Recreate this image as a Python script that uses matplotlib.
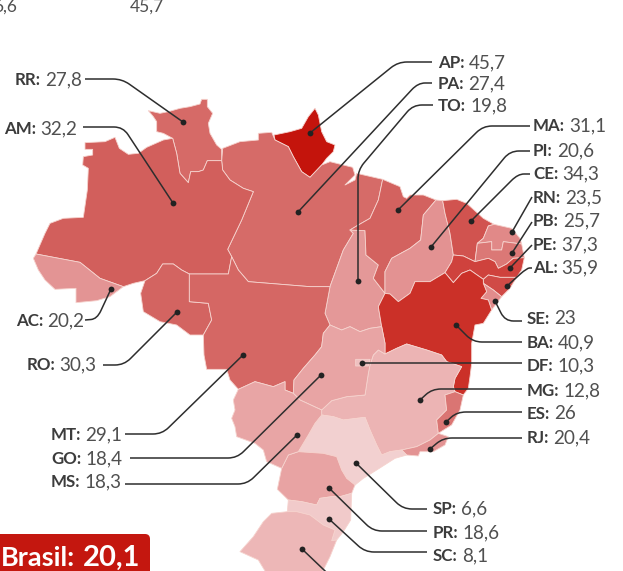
import matplotlib
matplotlib.use("Agg")
import matplotlib.pyplot as plt
from matplotlib.colors import LinearSegmentedColormap
from matplotlib.patches import FancyBboxPatch, PathPatch, Polygon
from matplotlib.path import Path

W, H = 623, 571
plt.rcParams['font.family'] = ['Lato', 'DejaVu Sans']

# Rates per state
codes = ["AP","PA","TO","MA","PI","CE","RN","PB","PE","AL","SE","BA","DF","MG","ES","RJ","SP","PR","SC",
         "RR","AM","AC","RO","MT","GO","MS"]
values = [45.7,27.4,19.8,31.1,20.6,34.3,23.5,25.7,37.3,35.9,23,40.9,10.3,12.8,26,20.4,6.6,18.6,8.1,
          27.8,32.2,20.2,30.3,29.1,18.4,18.3]
value_text = ["45,7","27,4","19,8","31,1","20,6","34,3","23,5","25,7","37,3","35,9","23","40,9","10,3","12,8","26","20,4","6,6","18,6","8,1",
              "27,8","32,2","20,2","30,3","29,1","18,4","18,3"]
rs_estimate = 12.3   # its label lies below the crop; tone
brasil = "20,1"
stubs = [("6,6", -7), ("45,7", 130)]

# Colour ramp
ramp_vals = [6.6, 10.3, 12.8, 18.5, 20.3, 23, 27.5, 32, 35, 40.9, 45.7]
ramp_cols = ["#F2D0D0","#EFC0C0","#ECB4B4","#E8A4A4","#E39393","#E28C8C","#D66B68","#D2605D","#D14F4B","#CB3028","#C4140C"]
span = ramp_vals[-1] - ramp_vals[0]
cmap = LinearSegmentedColormap.from_list("rate", [((v - ramp_vals[0]) / span, c) for v, c in zip(ramp_vals, ramp_cols)])

Z1, Z2, Z3, Z4 = (0, 90), (310, 90), (200, 330), (420, 190)
def z(o, pts):
    return [(o[0] + a / 3, o[1] + b / 3) for a, b in pts]

shapes = {
 "AM": z(Z1, [(255,158),(315,155),(345,142),(358,175),(385,193),(415,190),(440,172),(490,150),(518,145),(530,190),(540,250),(565,278),(572,245),(595,245),(610,240),(622,212),(665,212),(668,240),(690,270),(730,295),(760,305),(725,390),(683,478),(695,500),(685,552),(568,552),(545,540),(520,522),(488,522),(470,550),(435,572),(400,580),(370,590),(300,565),(240,517),(108,492),(135,430),(150,400),(190,385),(250,382),(262,300),(265,235),(248,225),(250,200),(278,195),(278,178),(255,178)]),
 "RR": z(Z1, [(445,62),(480,70),(505,65),(540,55),(570,50),(600,42),(605,28),(622,28),(622,50),(638,70),(625,100),(630,130),(650,165),(665,178),(665,212),(622,212),(610,240),(595,245),(572,245),(565,278),(540,250),(530,190),(518,145),(490,130),(470,125),(470,95),(460,80)]),
 "AC": z(Z1, [(108,492),(240,517),(300,565),(370,590),(330,620),(290,632),(228,638),(228,595),(165,598),(135,570),(115,540),(100,505)]),
 "RO": z(Z1, [(435,572),(470,550),(488,522),(520,522),(545,540),(568,552),(568,635),(625,640),(635,690),(610,735),(570,735),(530,705),(480,695),(430,665),(422,610)]),
 "PA": z(Z1, [(668,175),(720,155),(775,150),(775,130),(815,127),(825,150),(865,170),(880,200),(905,245),(930,262)])
     + z(Z2, [(35,225),(60,215),(128,232),(135,255),(105,285),(135,270),(140,250),(218,268),(205,330),(180,385),(145,405),(120,420),(130,430),(100,480),(60,590)])
     + z(Z1, [(930,590),(745,575),(715,540),(695,500),(683,478),(725,390),(760,305),(730,295),(690,270),(668,240),(665,212)]),
 "AP": z(Z2, [(15,55),(25,75),(35,125),(50,155),(75,165),(70,185),(50,205),(35,225),(0,262)])
     + z(Z1, [(905,245),(880,200),(865,170),(825,150),(822,135),(870,125),(905,115),(925,80)]),
 "TO": z(Z2, [(120,420),(165,422),(168,495),(205,525),(190,565),(225,610),(205,650),(215,710),(180,715),(150,725),(120,710),(95,720),(60,705),(45,670),(60,590),(100,480),(130,430)]),
 "MA": z(Z2, [(218,268),(270,290),(280,320),(290,325),(300,315),(340,315),(378,330),(340,375),(332,450),(300,475),(245,505),(225,545),(225,610),(190,565),(205,525),(168,495),(165,422),(120,420),(145,405),(180,385),(205,330)]),
 "PI": z(Z2, [(378,330),(398,332),(405,370),(420,430),(430,495),(425,515),(405,548),(360,575),(315,575),(300,610),(265,635),(240,612),(225,610),(225,545),(245,505),(300,475),(332,450),(340,375)]),
 "CE": z(Z4, [(68,32),(110,28),(140,40),(190,85),(222,103),(205,108),(190,145),(172,160),(165,215),(130,198),(100,195),(90,130),(75,70)]),
 "RN": z(Z4, [(205,108),(222,103),(275,115),(300,145),(305,162),(250,155),(245,180),(215,180),(215,155),(172,160),(190,145)]),
 "PB": z(Z4, [(172,160),(215,155),(215,180),(245,180),(250,155),(305,162),(313,203),(280,205),(260,222),(235,235),(225,215),(205,205),(165,215)]),
 "PE": z(Z4, [(100,195),(130,198),(165,215),(205,205),(225,215),(235,235),(260,222),(280,205),(313,203),(305,240),(290,262),(240,262),(205,255),(190,268),(150,240),(125,250),(100,278),(75,248),(95,215)]),
 "AL": z(Z4, [(190,268),(205,255),(240,262),(290,262),(270,295),(245,320),(220,300),(190,280)]),
 "SE": z(Z4, [(190,280),(220,300),(245,320),(215,360),(205,330),(183,325),(200,305)]),
 "BA": z(Z2, [(205,650),(225,610),(240,612),(265,635),(300,610),(315,575),(360,575),(405,548),(430,578),(455,550),(480,540),(520,568),(520,580),(530,605),(513,625),(535,630),(545,660),(520,700),(495,705),(485,760),(485,820)])
     + z(Z3, [(810,140),(805,175),(790,195),(765,185),(760,170),(765,145),(785,110),(740,95),(725,75),(680,60),(620,42),(590,55),(555,72),(555,40),(545,-10)]),
 "MG": z(Z3, [(365,240),(395,212),(440,200),(495,195),(505,130),(510,105),(520,75),(535,60),(555,72),(590,55),(620,42),(680,60),(725,75),(740,95),(785,110),(765,145),(760,170),(765,185),(735,195),(740,240),(710,270),(715,310),(690,330),(650,350),(605,360),(570,365),(545,375),(530,345),(510,300),(495,262),(430,270),(400,260),(365,255)]),
 "ES": z(Z3, [(735,195),(765,185),(790,195),(780,240),(755,285),(715,310),(710,270),(740,240)]),
 "GO": z(Z3, [(390,-15),(425,0),(450,-10),(480,5),(510,-5),(545,-10),(555,40),(555,72),(535,60),(520,75),(510,105),(505,130),(495,195),(440,200),(395,212),(365,240),(300,210),(280,190),(282,150),(310,115),(345,75),(365,50),(370,10)]),
 "MT": z(Z1, [(568,552),(685,552),(695,500),(715,540),(745,575),(930,590)])
     + z(Z2, [(60,590),(45,670),(60,705)])
     + z(Z3, [(390,-15),(370,10),(365,50),(345,75),(310,115),(282,150),(280,190),(255,180),(255,155),(220,170),(165,155),(115,178),(90,150),(80,118)])
     + z(Z1, [(620,838),(612,795),(610,735),(635,690),(625,640),(568,635)]),
 "MS": z(Z3, [(115,178),(165,155),(220,170),(255,155),(255,180),(280,190),(300,210),(365,240),(365,255),(345,280),(325,315),(295,365),(265,375),(245,415),(200,395),(190,360),(165,340),(110,320),(105,290),(95,265),(105,240),(100,210)]),
 "SP": z(Z3, [(365,255),(400,260),(430,270),(495,262),(510,300),(530,345),(545,375),(570,365),(605,360),(620,375),(585,385),(530,420),(490,445),(465,465),(440,445),(425,420),(410,380),(370,370),(295,365),(325,315),(345,280)]),
 "PR": z(Z3, [(295,365),(370,370),(410,380),(425,420),(440,445),(465,465),(455,490),(420,500),(395,500),(360,505),(350,525),(305,515),(265,510),(232,478),(245,415),(265,375)]),
 "SC": z(Z3, [(265,510),(305,515),(350,525),(360,505),(395,500),(420,500),(455,490),(452,570),(430,605),(410,630),(395,632),(405,600),(370,585),(330,555),(290,545),(262,545)]),
 "RJ": z(Z3, [(715,310),(745,320),(735,345),(700,365),(660,365),(655,378),(620,375),(605,360),(650,350),(690,330)]),
 "DF": z(Z3, [(467,88),(510,88),(505,108),(467,108)]),
}
rs_shape = z(Z3, [(262,545),(290,545),(330,555),(370,585),(405,600),(395,632),(410,630),(390,680),(370,720),(340,760),(230,760),(195,723),(175,690),(120,665),(160,620),(190,575),(215,550)])

# label anchor (left x, centre y)
anchors = {"AP":(438,62),"PA":(438,83),"TO":(438,105),"MA":(533,125),"PI":(533,150),"CE":(533,173),"RN":(533,197),
           "PB":(533,220),"PE":(533,244),"AL":(533,267),"SE":(527,318),"BA":(527,342),"DF":(527,365),"MG":(527,390),
           "ES":(527,413),"RJ":(527,437),"SP":(433,508),"PR":(433,532),"SC":(433,555),
           "RR":(15,79),"AM":(4,128),"AC":(16,320),"RO":(27,364),"MT":(51,434),"GO":(51,458),"MS":(51,481)}

# leaders: text end, corner, dot on the state
leaders = {"AP":[(432,62),(398,62),(310,133)],"PA":[(432,83),(418,83),(298,212)],"TO":[(433,105),(413,105),(358,170),(358,281)],
           "MA":[(530,126),(483,126),(398,210)],"PI":[(530,151),(510,151),(431,247)],"CE":[(530,174),(518,174),(471,221)],
           "RN":[(532,197),(512,232)],"PB":[(532,222),(512,253)],"PE":[(532,245),(510,268)],"AL":[(532,268),(527,268),(507,286)],
           "SE":[(522,321),(505,321),(495,301)],"BA":[(522,342),(473,342),(456,325)],"DF":[(522,363),(362,363)],
           "MG":[(522,389),(432,389),(420,400)],"ES":[(522,412),(457,412),(446,422)],"RJ":[(522,438),(443,438),(430,449)],
           "SP":[(427,509),(403,509),(356,463)],"PR":[(427,531),(373,531),(329,488)],"SC":[(427,552),(365,552),(329,519)],
           "RR":[(85,79),(122,79),(183,122)],"AM":[(83,127),(123,127),(173,203)],"AC":[(85,320),(97,319),(111,289)],
           "RO":[(103,365),(124,365),(177,312)],"MT":[(125,434),(162,434),(243,355)],"GO":[(130,458),(237,458),(321,375)],
           "MS":[(125,484),(247,484),(297,435)]}
rs_leader = [(345,590),(302,549)]

INK = "#3C3C3C"
VAL = "#505050"
LINE = "#2E2E2E"
FS_B, FS_V = 12.2, 13.6

fig = plt.figure(figsize=(W / 100, H / 100), dpi=100)
ax = fig.add_axes([0, 0, 1, 1])
ax.set_xlim(0, W)
ax.set_ylim(H, 0)
ax.axis("off")

def colour(v):
    return cmap((v - ramp_vals[0]) / span)

def add_state(poly, val, zo=2):
    ax.add_patch(Polygon(poly, closed=True, facecolor=colour(val), edgecolor="#F6D3CE", linewidth=0.6,
                         joinstyle="round", zorder=zo))

for code, val in zip(codes, values):
    add_state(shapes[code], val, 3 if code == "DF" else 2)
add_state(rs_shape, rs_estimate)

def leader_path(pts, r=9):
    verts = [pts[0]]
    cmds = [Path.MOVETO]
    for i in range(1, len(pts) - 1):
        p0, p1, p2 = pts[i - 1], pts[i], pts[i + 1]
        def toward(a, b):
            d = ((a[0] - b[0]) ** 2 + (a[1] - b[1]) ** 2) ** 0.5
            k = min(r, d / 2) / d
            return (b[0] + (a[0] - b[0]) * k, b[1] + (a[1] - b[1]) * k)
        verts += [toward(p0, p1), p1, toward(p2, p1)]
        cmds += [Path.LINETO, Path.CURVE3, Path.CURVE3]
    verts.append(pts[-1])
    cmds.append(Path.LINETO)
    return Path(verts, cmds)

for pts in list(leaders.values()) + [rs_leader]:
    ax.add_patch(PathPatch(leader_path(pts), fill=False, edgecolor=LINE, linewidth=1.1, zorder=5))
    ax.plot(pts[-1][0], pts[-1][1], marker="o", ms=4.2, mew=0, color="#222222", zorder=6)

renderer = fig.canvas.get_renderer()
BASE = 6
for code, txt in zip(codes, value_text):
    x, y = anchors[code]
    t = ax.text(x, y + BASE, code + ":", fontsize=FS_B, fontweight="bold", color=INK, va="baseline", zorder=7)
    e = t.get_window_extent(renderer)
    ax.text(x + e.width + 4, y + BASE, txt, fontsize=FS_V, fontweight="regular", color=VAL, va="baseline", zorder=7)

for txt, x in stubs:
    ax.text(x, 12, txt, fontsize=12.5, fontweight="regular", color=VAL, va="baseline", ha="left")

ax.add_patch(FancyBboxPatch((-10, 534), 160, 60, boxstyle="round,pad=0,rounding_size=5",
                            facecolor="#C4170F", edgecolor="none", zorder=8))
t = ax.text(1, 566, "Brasil:", fontsize=19.5, fontweight="bold", color="white", va="baseline", zorder=9)
e = t.get_window_extent(renderer)
ax.text(1 + e.width + 8, 566, brasil, fontsize=21, fontweight="bold", color="white", va="baseline", zorder=9)

fig.savefig("out.png", dpi=100, facecolor="white")
